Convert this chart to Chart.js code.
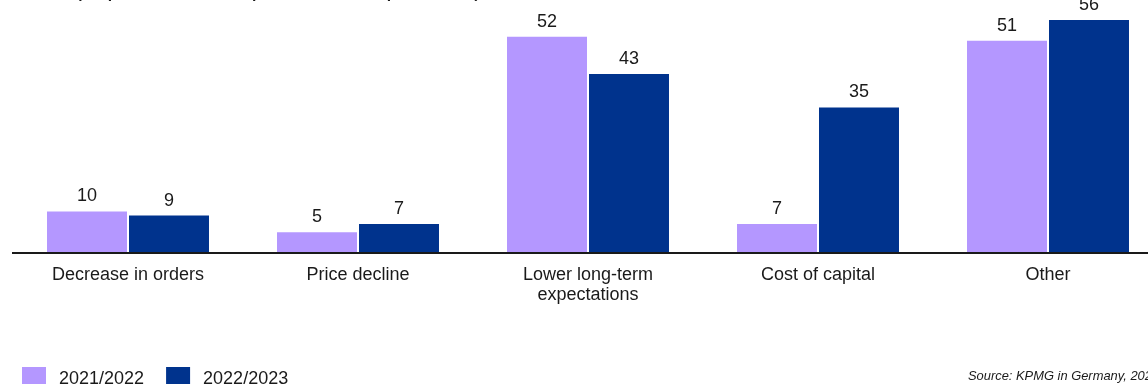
<!DOCTYPE html>
<html>
<head>
<meta charset="utf-8">
<script src="https://cdn.jsdelivr.net/npm/chart.js@4.4.1/dist/chart.umd.min.js"></script>
<style>
  html, body { margin: 0; padding: 0; background: #ffffff; overflow: hidden; }
  #wrap { position: relative; width: 1166px; height: 385px; }
</style>
</head>
<body>
<div id="wrap"><canvas id="chart"></canvas></div>
<script>
// Reasons for impairments, share of respondents in percent
const categories = [
  'Decrease in orders',
  'Price decline',
  ['Lower long-term', 'expectations'],
  'Cost of capital',
  'Other'
];
const seriesNames = ['2021/2022', '2022/2023'];
const values2122 = [10, 5, 52, 7, 51];
const values2223 = [9, 7, 43, 35, 56];
const subtitle = '(in percent, multiple answers possible)';
const sourceNote = 'Source: KPMG in Germany, 2023';

const FONT = '"Liberation Sans", Arial, Helvetica, sans-serif';
const TEXT = '#1a1a1a';
const COLORS = ['#B497FF', '#00338D'];

// value labels above each bar
const valueLabels = {
  id: 'valueLabels',
  afterDatasetsDraw(chart) {
    const ctx = chart.ctx;
    ctx.save();
    ctx.font = '18px ' + FONT;
    ctx.fillStyle = TEXT;
    ctx.textAlign = 'center';
    ctx.textBaseline = 'alphabetic';
    chart.data.datasets.forEach((ds, i) => {
      chart.getDatasetMeta(i).data.forEach((bar, j) => {
        ctx.fillText(String(ds.data[j]), bar.x, bar.y - 10);
      });
    });
    ctx.restore();
  }
};

// subtitle, legend and source line
const decorations = {
  id: 'decorations',
  afterDraw(chart) {
    const ctx = chart.ctx;
    ctx.save();
    ctx.fillStyle = TEXT;
    ctx.textBaseline = 'alphabetic';
    ctx.textAlign = 'left';
    ctx.font = '24px ' + FONT;
    ctx.fillText(subtitle, 74, -4);

    // legend
    ctx.font = '18px ' + FONT;
    let x = 22;
    chart.data.datasets.forEach((ds) => {
      ctx.fillStyle = ds.backgroundColor;
      ctx.fillRect(x, 367, 24, 17);
      ctx.fillStyle = TEXT;
      ctx.fillText(ds.label, x + 37, 384);
      x += 37 + ctx.measureText(ds.label).width + 22;
    });

    // source
    ctx.font = 'italic 12.9px ' + FONT;
    ctx.fillText(sourceNote, 968, 380);
    ctx.restore();
  }
};

new Chart(document.getElementById('chart'), {
  type: 'bar',
  data: {
    labels: categories,
    datasets: [
      { label: seriesNames[0], data: values2122, backgroundColor: COLORS[0] },
      { label: seriesNames[1], data: values2223, backgroundColor: COLORS[1] }
    ]
  },
  options: {
    responsive: true,
    maintainAspectRatio: false,
    animation: false,
    devicePixelRatio: 1,
    categoryPercentage: 0.713,
    barPercentage: 0.9756,
    layout: { padding: { left: 13, right: 3, top: 20, bottom: 62 } },
    plugins: {
      legend: { display: false },
      tooltip: { enabled: false },
      title: { display: false }
    },
    scales: {
      x: {
        grid: { display: false, drawTicks: false },
        border: { display: true, color: TEXT, width: 2, z: 1 },
        ticks: {
          color: TEXT,
          font: { family: FONT, size: 18, lineHeight: 1.12 },
          padding: 12,
          maxRotation: 0,
          autoSkip: false
        },
        afterFit(scale) { scale.height = 70; }
      },
      y: {
        display: false,
        min: 0,
        max: 56
      }
    }
  },
  plugins: [valueLabels, decorations]
});
</script>
</body>
</html>
